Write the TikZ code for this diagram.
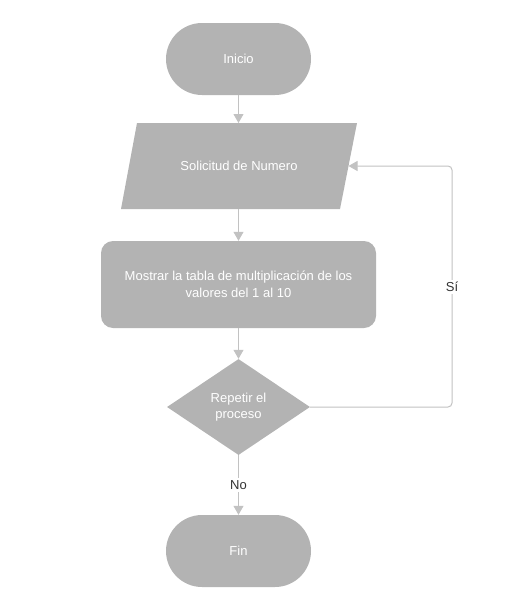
\documentclass[tikz,border=0pt]{standalone}
\usepackage{fontspec}
\setmainfont{Liberation Sans}
\usetikzlibrary{shapes.geometric,arrows.meta}
\definecolor{shapefill}{RGB}{179,179,179}
\definecolor{linecol}{RGB}{194,194,194}
\definecolor{labelcol}{RGB}{51,51,51}
\begin{document}
\begin{tikzpicture}[x=1pt,y=-1pt,
  every node/.style={font=\fontsize{13}{16.5}\selectfont, text=white},
  terminal/.style={fill=shapefill, rectangle, rounded corners=36pt, minimum width=145pt, minimum height=72pt, inner sep=0pt},
  procbox/.style={fill=shapefill, rectangle, rounded corners=12pt, minimum width=275pt, minimum height=87pt, inner sep=0pt, align=center},
  decision/.style={fill=shapefill, diamond, minimum width=143pt, minimum height=96pt, inner sep=0pt, align=center},
  iobox/.style={fill=shapefill},
  flow/.style={draw=linecol, line width=1pt, -{Triangle[width=10pt,length=9pt]}},
  edgelabel/.style={fill=white, text=labelcol, inner sep=2pt}]
\useasboundingbox (0,0) rectangle (532,613);

\node[terminal] (start) at (238.5,59) {Inicio};

\fill[iobox] (121,209) -- (137,123) -- (357,123) -- (340,209) -- cycle;
\node (input) at (239,166) {Solicitud de Numero};
\coordinate (inTop) at (238.5,123);
\coordinate (inBot) at (238.5,209);
\coordinate (inRight) at (348.5,166);
\coordinate (loopTop) at (452,166);
\coordinate (loopBot) at (452,407);

\node[procbox] (show) at (238.5,284.5) {Mostrar la tabla de multiplicación de los\\valores del 1 al 10};

\node[decision] (dec) at (238.5,407) {Repetir el\\proceso};

\node[terminal] (end) at (238.5,551) {Fin};

\draw[flow] (start.south) -- (inTop);
\draw[flow] (inBot) -- (show.north);
\draw[flow] (show.south) -- (dec.north);
\draw[flow] (dec.south) -- (end.north);
\draw[flow, rounded corners=4pt] (dec.east) -- (loopBot) -- (loopTop) -- (inRight);

\node[edgelabel] (si) at (452,287) {Sí};
\node[edgelabel] (no) at (238.5,485) {No};
\end{tikzpicture}
\end{document}
